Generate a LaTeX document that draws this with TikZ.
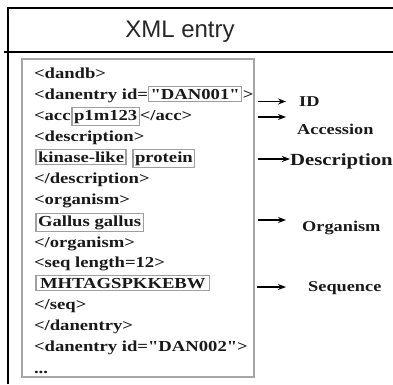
\documentclass[tikz,border=0pt]{standalone}
\usepackage{fontspec}
\usetikzlibrary{arrows.meta}
\newfontfamily\xmlfont[FakeStretch=1.22]{Liberation Serif}
\newfontfamily\headfont{Liberation Sans}
\tikzset{
  frame/.style={line width=1.1pt, draw=black},
  xmltext/.style={anchor=base west, inner sep=0pt, outer sep=0pt, text=black!90,
    font=\xmlfont\bfseries\fontsize{15.3}{18}\selectfont},
  valbox/.style={xmltext, draw=gray!75, line width=1.2pt, inner xsep=2pt,
    inner ysep=2pt},
  tag/.style={anchor=base west, inner sep=0pt, text=black!90,
    font=\xmlfont\bfseries\fontsize{15}{18}\selectfont},
  pointer/.style={line width=1.2pt, -{Stealth[length=8pt,width=6pt]}},
}
\begin{document}
\begin{tikzpicture}[x=1pt, y=-1pt]
\useasboundingbox (0,0) rectangle (393,384);

% outer frame and heading
\draw[frame] (8,384) -- (8,8) -- (393,8);
\draw[frame] (4,52) -- (393,52);
\node[font=\headfont\fontsize{24}{27}\selectfont, anchor=base, text=black!85]
  (head) at (180,37) {XML entry};

% gray panel holding the XML record
\draw[draw=gray!70, line width=1.6pt] (22,59) rectangle (254,377);

% XML record, one line per row
\node[xmltext] (r1) at (34,78) {<dandb>};

\node[xmltext] (r2a) at (34,99) {<danentry id=};
\node[valbox, anchor=base west] (r2b) at ([xshift=0.5pt]r2a.base east) {"DAN001"};
\node[xmltext] (r2c) at ([xshift=1pt]r2b.base east) {>};

\node[xmltext] (r3a) at (34,120) {<acc};
\node[valbox, anchor=base west] (r3b) at ([xshift=1.5pt]r3a.base east) {p1m123};
\node[xmltext] (r3c) at ([xshift=0.5pt]r3b.base east) {</acc>};

\node[xmltext] (r4) at (34,141) {<description>};

\node[valbox, anchor=base west] (r5a) at (36,162) {kinase-like};
\node[valbox, anchor=base west] (r5b) at ([xshift=7pt]r5a.base east) {protein};

\node[xmltext] (r6) at (34,183) {</description>};
\node[xmltext] (r7) at (34,204) {<organism>};
\node[valbox, anchor=base west] (r8) at (36,226) {Gallus gallus};
\node[xmltext] (r9) at (34,247) {</organism>};
\node[xmltext] (r10) at (34,267) {<seq length=12>};
\node[valbox, anchor=base west, inner xsep=4pt] (r11) at (36,288) {MHTAGSPKKEBW};
\node[xmltext] (r12) at (34,309) {</seq>};
\node[xmltext] (r13) at (34,330) {</danentry>};
\node[xmltext] (r14) at (34,351) {<danentry id="DAN002">};
\node[xmltext] (r15) at (34,373) {...};

% field names on the right
\node[tag] (lid) at (299,106) {ID};
\node[tag] (lacc) at (297,134) {Accession};
\node[tag, font=\xmlfont\bfseries\fontsize{17}{20}\selectfont] (ldesc) at (290,165) {Description};
\node[tag] (lorg) at (302,231) {Organism};
\node[tag] (lseq) at (308,291) {Sequence};

% pointers from the record to the field names
\coordinate (pid1) at (258,101.5);  \coordinate (pid2) at (286,101.5);
\coordinate (pac1) at (258,117);    \coordinate (pac2) at (286,117);
\coordinate (pde1) at (258,159);    \coordinate (pde2) at (290,159);
\coordinate (por1) at (258,220);    \coordinate (por2) at (286,220);
\coordinate (pse1) at (257,287);    \coordinate (pse2) at (286,287);
\draw[pointer] (pid1) -- (pid2);
\draw[pointer] (pac1) -- (pac2);
\draw[pointer] (pde1) -- (pde2);
\draw[pointer] (por1) -- (por2);
\draw[pointer] (pse1) -- (pse2);
\end{tikzpicture}
\end{document}
